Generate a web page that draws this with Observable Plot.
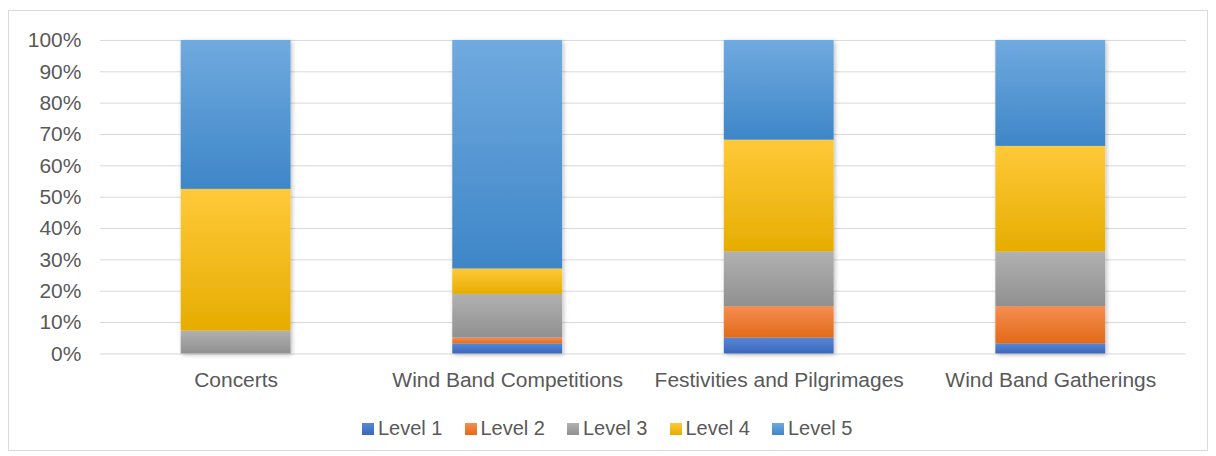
<!DOCTYPE html>
<html>
<head>
<meta charset="utf-8">
<script src="https://cdn.jsdelivr.net/npm/d3@7"></script>
<script src="https://cdn.jsdelivr.net/npm/@observablehq/plot@0.6"></script>
<style>
  html, body { margin: 0; padding: 0; background: #fff; }
  body { width: 1216px; height: 456px; position: relative; font-family: "Liberation Sans", Arial, sans-serif; }
  #frame { position: absolute; left: 8px; top: 10px; width: 1200px; height: 441px; border: 1px solid #d9d9d9; box-sizing: border-box; }
  #chart { position: absolute; left: 0; top: 0; }
  #legend { position: absolute; left: 362px; top: 417px; display: flex; gap: 22px; font-size: 20px; color: #595959; }
  #legend .item { display: flex; align-items: center; gap: 4px; }
  #legend .sw { width: 12px; height: 12px; display: inline-block; }
</style>
</head>
<body>
<div id="frame"><div id="chart"></div></div>
<div id="legend"></div>
<script>
const categories = ["Concerts", "Wind Band Competitions", "Festivities and Pilgrimages", "Wind Band Gatherings"];
const levels = ["Level 1", "Level 2", "Level 3", "Level 4", "Level 5"];
const level1 = [0.000, 0.032, 0.051, 0.032];
const level2 = [0.000, 0.019, 0.100, 0.119];
const level3 = [0.073, 0.139, 0.175, 0.174];
const level4 = [0.452, 0.081, 0.356, 0.337];
const level5 = [0.475, 0.729, 0.318, 0.338];
const yTicks = [0, 0.1, 0.2, 0.3, 0.4, 0.5, 0.6, 0.7, 0.8, 0.9, 1.0];

const seriesValues = [level1, level2, level3, level4, level5];
const gradientStops = [
  ["#5887d4", "#3a67bc"],
  ["#f48e52", "#e46a17"],
  ["#b1b1b1", "#909090"],
  ["#ffc93a", "#e6ad00"],
  ["#70aadf", "#3e86c8"]
];
const gradIds = levels.map((_, i) => `grad${i + 1}`);

const table = [];
categories.forEach((c, ci) => {
  levels.forEach((l, li) => {
    table.push({ category: c, level: l, value: seriesValues[li][ci] });
  });
});

const chart = Plot.plot({
  width: 1200,
  height: 392,
  marginLeft: 91,
  marginRight: 21,
  marginTop: 29,
  marginBottom: 49,
  style: { fontFamily: "'Liberation Sans', Arial, sans-serif", fontSize: "21px", color: "#595959", background: "transparent" },
  x: { domain: categories, paddingInner: 0.596, paddingOuter: 0.298, label: null },
  y: { domain: [0, 1], label: null },
  color: { domain: levels, range: gradIds.map(id => `url(#${id})`) },
  marks: [
    Plot.ruleY(yTicks, { stroke: "#d9d9d9", strokeWidth: 1 }),
    Plot.barY(table, { x: "category", y: "value", fill: "level", className: "bars" }),
    Plot.axisY(yTicks, { tickSize: 0, tickPadding: 19, tickFormat: d3.format(".0%"), fill: "#595959", fontSize: 21 }),
    Plot.axisX({ tickSize: 0, tickPadding: 18, fill: "#595959", fontSize: 21 })
  ]
});

const svgNS = "http://www.w3.org/2000/svg";
const defs = document.createElementNS(svgNS, "defs");
gradIds.forEach((id, i) => {
  const g = document.createElementNS(svgNS, "linearGradient");
  g.setAttribute("id", id);
  g.setAttribute("x1", "0"); g.setAttribute("y1", "0");
  g.setAttribute("x2", "0"); g.setAttribute("y2", "1");
  [[0, gradientStops[i][0]], [1, gradientStops[i][1]]].forEach(([o, c]) => {
    const s = document.createElementNS(svgNS, "stop");
    s.setAttribute("offset", o);
    s.setAttribute("stop-color", c);
    g.appendChild(s);
  });
  defs.appendChild(g);
});
const f = document.createElementNS(svgNS, "filter");
f.setAttribute("id", "shadow");
f.setAttribute("x", "-10%"); f.setAttribute("y", "-10%");
f.setAttribute("width", "130%"); f.setAttribute("height", "130%");
const ds = document.createElementNS(svgNS, "feDropShadow");
ds.setAttribute("dx", "1.5"); ds.setAttribute("dy", "1.5");
ds.setAttribute("stdDeviation", "2");
ds.setAttribute("flood-color", "#000");
ds.setAttribute("flood-opacity", "0.25");
f.appendChild(ds);
defs.appendChild(f);
chart.insertBefore(defs, chart.firstChild);
chart.querySelectorAll("g.bars").forEach(g => g.setAttribute("filter", "url(#shadow)"));

document.getElementById("chart").appendChild(chart);

const legend = document.getElementById("legend");
levels.forEach((l, i) => {
  const item = document.createElement("div");
  item.className = "item";
  const sw = document.createElement("span");
  sw.className = "sw";
  sw.style.background = `linear-gradient(${gradientStops[i][0]}, ${gradientStops[i][1]})`;
  const t = document.createElement("span");
  t.textContent = l;
  item.appendChild(sw); item.appendChild(t);
  legend.appendChild(item);
});
</script>
</body>
</html>
